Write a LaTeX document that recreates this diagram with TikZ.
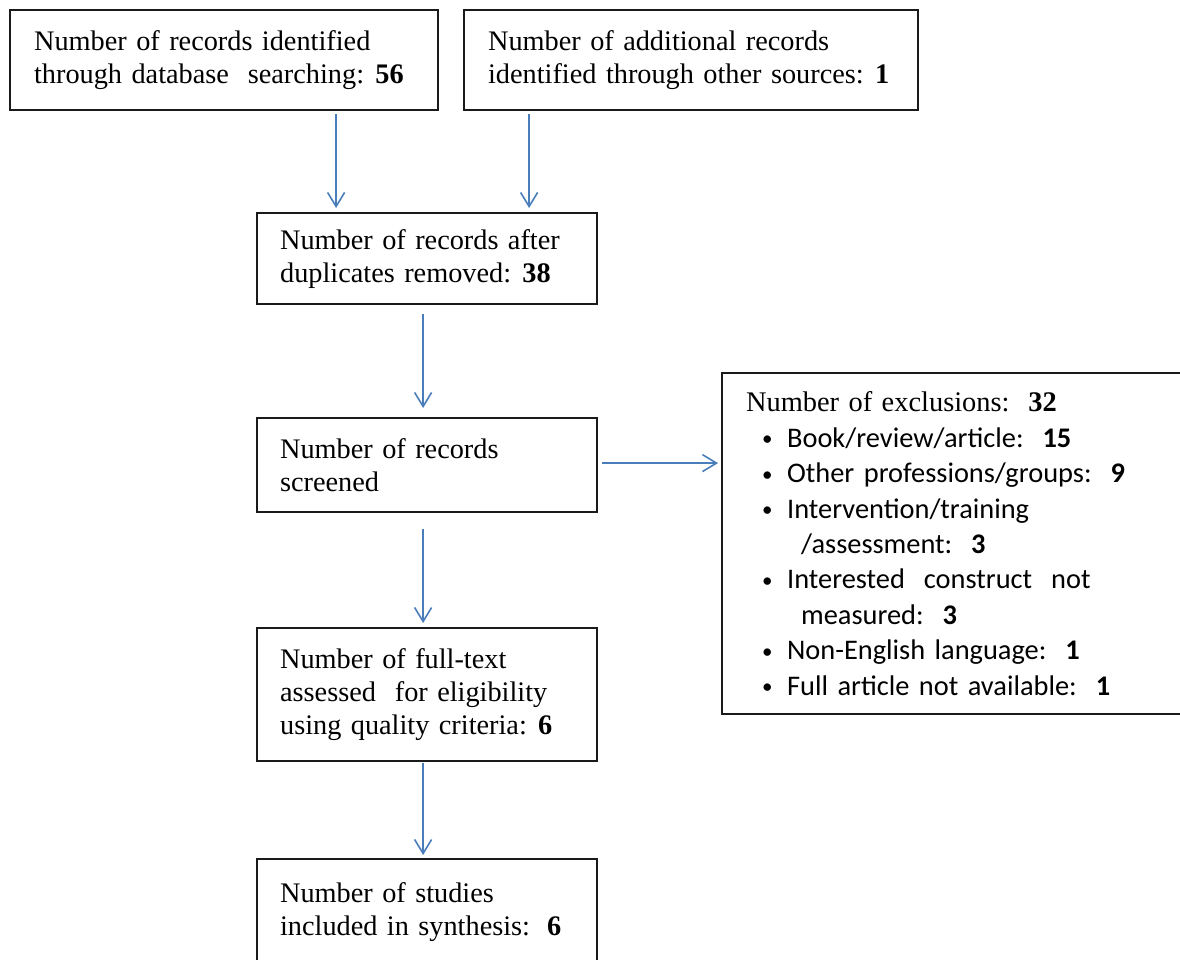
\documentclass[tikz,border=0pt]{standalone}
\usepackage{fontspec}
\setmainfont{Liberation Serif}
\newfontfamily\prsSans{Carlito}
\usetikzlibrary{arrows.meta}
\definecolor{prsBlue}{HTML}{4A7EBB}
\definecolor{prsInk}{HTML}{1A1A1A}
\newcommand{\prsItem}[1]{\hspace*{16pt}\makebox[25pt][l]{\raisebox{1.5pt}{\fontsize{21}{21}\selectfont\textbullet}}#1}
\newcommand{\prsMore}[1]{\hspace*{55pt}#1}
\newcommand{\prsGap}{\hspace{0.4em}}
\tikzset{
  prs box/.style={draw=prsInk, line width=2.2pt, anchor=north west, align=left, inner xsep=24pt, inner ysep=0pt,
    font=\fontsize{28.3}{33}\selectfont},
  prs flow/.style={draw=prsBlue, line width=1.6pt, -{Straight Barb[length=14pt, width=17pt]}},
  prs list/.style={prs box, font=\prsSans\fontsize{28.4}{35.4}\selectfont},
}
\begin{document}
\begin{tikzpicture}[x=1pt, y=-1pt]
  \useasboundingbox (0,0) rectangle (1180,959);
  \clip (0,0) rectangle (1180,959);
  % Identification
  \node[prs box, minimum width=428pt, minimum height=100pt, text width=380pt] (ident) at (9,9)
    {Number of records identified\\through database\ \ searching:\prsGap\textbf{56}};
  \node[prs box, minimum width=454pt, minimum height=100pt, text width=406pt] (other) at (463,9)
    {Number of additional records\\identified through other sources:\prsGap\textbf{1}};
  % Screening
  \node[prs box, minimum width=340pt, minimum height=91pt, text width=294pt, inner xsep=23pt] (dedup) at (256,212)
    {Number of records after\\duplicates removed:\prsGap\textbf{38}};
  \node[prs box, minimum width=340pt, minimum height=94pt, text width=294pt, inner xsep=23pt] (screen) at (256,417)
    {Number of records\\screened};
  \node[prs list, minimum width=480pt, minimum height=341pt, text width=432pt] (excl) at (721,372)
    {{\rmfamily Number of exclusions:\ \ \textbf{32}}\\
     \prsItem{Book/review/article:\ \ \textbf{15}}\\
     \prsItem{Other professions/groups:\ \ \textbf{9}}\\
     \prsItem{Intervention/training}\\
     \prsMore{/assessment:\ \ \textbf{3}}\\
     \prsItem{Interested\ \ construct\ \ not}\\
     \prsMore{measured:\ \ \textbf{3}}\\
     \prsItem{Non-English language:\ \ \textbf{1}}\\
     \prsItem{Full article not available:\ \ \textbf{1}}};
  % Eligibility and inclusion
  \node[prs box, minimum width=340pt, minimum height=133pt, text width=294pt, inner xsep=23pt] (elig) at (256,627)
    {Number of full-text\\assessed\ \ for eligibility\\using quality criteria:\prsGap\textbf{6}};
  \node[prs box, minimum width=340pt, minimum height=133pt, text width=294pt, inner xsep=23pt] (incl) at (256,858)
    {Number of studies\\included in synthesis:\hspace{0.6em}\textbf{6}\\\mbox{}};
  % Arrows
  \draw[prs flow, shorten <=3pt, shorten >=4pt] ([xshift=112pt]ident.south) -- ([xshift=-91pt]dedup.north);
  \draw[prs flow, shorten <=3pt, shorten >=4pt] ([xshift=-162pt]other.south) -- ([xshift=102pt]dedup.north);
  \draw[prs flow, shorten <=9pt, shorten >=9pt] ([xshift=-4pt]dedup.south) -- ([xshift=-4pt]screen.north);
  \draw[prs flow, shorten <=16pt, shorten >=4pt] ([xshift=-4pt]screen.south) -- ([xshift=-4pt]elig.north);
  \draw[prs flow, shorten <=1pt, shorten >=3pt] ([xshift=-4pt]elig.south) -- ([xshift=-4pt]incl.north);
  \draw[prs flow, shorten <=4pt, shorten >=3pt] ([yshift=2pt]screen.east) -- ([yshift=2pt]screen.east -| excl.west);
\end{tikzpicture}
\end{document}
